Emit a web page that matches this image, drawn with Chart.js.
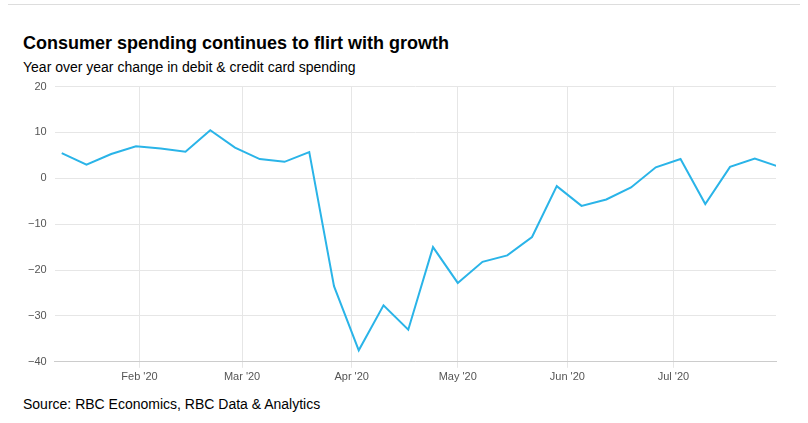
<!DOCTYPE html>
<html><head>
<script src="https://cdn.jsdelivr.net/npm/chart.js@4"></script>
<style>
body{margin:0;background:#fff;font-family:"Liberation Sans",Arial,sans-serif;width:808px;height:423px;overflow:hidden;position:relative}
#top{position:absolute;left:8px;right:8px;top:4px;border-top:1px solid #ddd}
h1{position:absolute;left:23px;top:33px;margin:0;font-size:18px;font-weight:bold;color:#000}
#sub{position:absolute;left:23px;top:59px;font-size:14px;color:#000}
#src{position:absolute;left:23px;top:396px;font-size:14px;color:#000}
#wrap{position:absolute;left:20px;top:72px;width:760px;height:315px}
</style></head><body>
<div id="top"></div>
<h1>Consumer spending continues to flirt with growth</h1>
<div id="sub">Year over year change in debit &amp; credit card spending</div>
<div id="wrap"><canvas id="c"></canvas></div>
<div id="src">Source: RBC Economics, RBC Data &amp; Analytics</div>
<script>
// day of year 2020 for each weekly reading
const days = [9,16,23,30,37,44,51,58,65,72,79,86,93,100,107,114,121,128,135,142,149,156,163,170,177,184,191,198,205,212];
const spending = [5.5,3,5.3,7,6.5,5.8,10.5,6.7,4.2,3.6,5.7,-23.5,-37.5,-27.7,-33,-15,-22.8,-18.2,-16.8,-12.8,-1.7,-6,-4.6,-2,2.4,4.2,-5.6,2.5,4.3,2.5];
const monthDays = [31,60,91,121,152,182];
const monthLabels = ["Feb '20","Mar '20","Apr '20","May '20","Jun '20","Jul '20"];

new Chart(document.getElementById("c"), {
  type: "line",
  data: {
    datasets: [{
      data: days.map((d, i) => ({ x: d, y: spending[i] })),
      borderColor: "#2ab4e8",
      borderWidth: 2,
      pointRadius: 0,
      tension: 0
    }]
  },
  options: {
    responsive: true,
    maintainAspectRatio: false,
    animation: false,
    plugins: { legend: { display: false }, tooltip: { enabled: false } },
    layout: { padding: { right: 4 } },
    scales: {
      x: {
        type: "linear", min: 7, max: 211,
        afterBuildTicks: s => { s.ticks = monthDays.map(v => ({ value: v })); },
        ticks: { callback: (v) => monthLabels[monthDays.indexOf(v)], color: "#555", font: { size: 11 }, maxRotation: 0 },
        grid: { color: "#e6e6e6", drawTicks: true, tickLength: 6 },
        border: { color: "#ccc" }
      },
      y: {
        min: -40, max: 20,
        ticks: { stepSize: 10, color: "#555", font: { size: 11 }, padding: 8,
          callback: v => v < 0 ? "\u2212" + Math.abs(v) : v },
        grid: { color: "#e6e6e6", drawTicks: false },
        border: { display: false }
      }
    }
  }
});
</script>
</body></html>
